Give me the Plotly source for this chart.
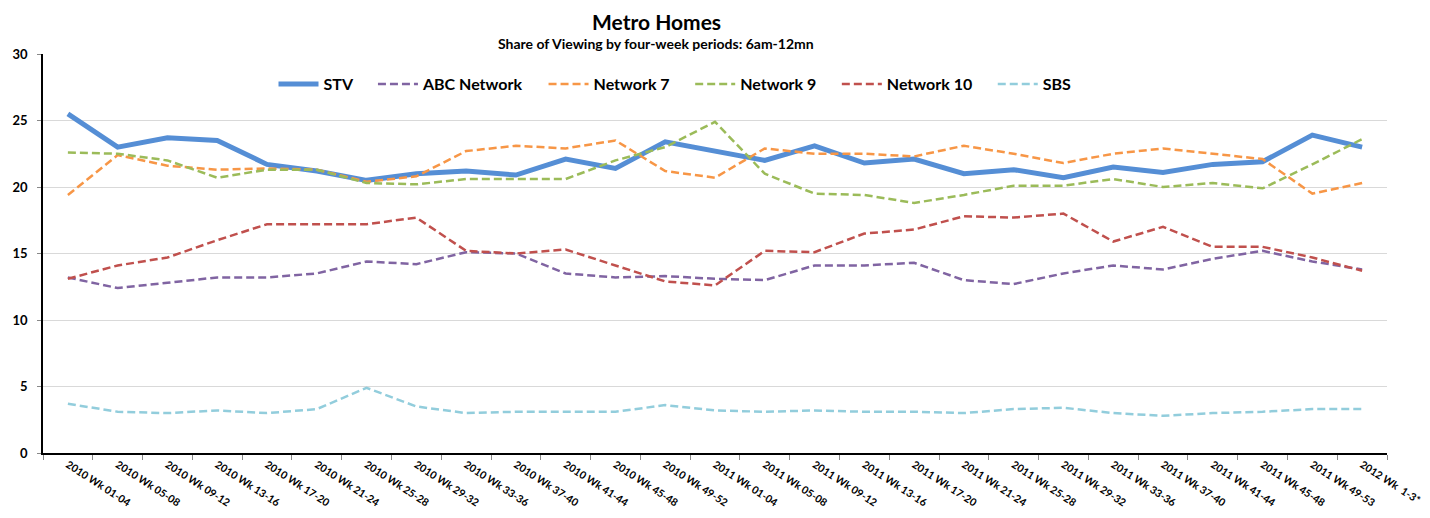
import plotly.graph_objects as go

categories = [
    "2010 Wk 01-04", "2010 Wk 05-08", "2010 Wk 09-12", "2010 Wk 13-16", "2010 Wk 17-20",
    "2010 Wk 21-24", "2010 Wk 25-28", "2010 Wk 29-32", "2010 Wk 33-36", "2010 Wk 37-40",
    "2010 Wk 41-44", "2010 Wk 45-48", "2010 Wk 49-52",
    "2011 Wk 01-04", "2011 Wk 05-08", "2011 Wk 09-12", "2011 Wk 13-16", "2011 Wk 17-20",
    "2011 Wk 21-24", "2011 Wk 25-28", "2011 Wk 29-32", "2011 Wk 33-36", "2011 Wk 37-40",
    "2011 Wk 41-44", "2011 Wk 45-48", "2011 Wk 49-53", "2012 Wk  1-3*",
]

stv = [25.5, 23.0, 23.7, 23.5, 21.7, 21.2, 20.5, 21.0, 21.2, 20.9, 22.1, 21.4, 23.4,
       22.7, 22.0, 23.1, 21.8, 22.1, 21.0, 21.3, 20.7, 21.5, 21.1, 21.7, 21.9, 23.9, 23.0]
abc = [13.2, 12.4, 12.8, 13.2, 13.2, 13.5, 14.4, 14.2, 15.1, 15.0, 13.5, 13.2, 13.3,
       13.1, 13.0, 14.1, 14.1, 14.3, 13.0, 12.7, 13.5, 14.1, 13.8, 14.6, 15.2, 14.4, 13.8]
net7 = [19.4, 22.4, 21.6, 21.3, 21.4, 21.3, 20.4, 20.8, 22.7, 23.1, 22.9, 23.5, 21.2,
        20.7, 22.9, 22.5, 22.5, 22.3, 23.1, 22.5, 21.8, 22.5, 22.9, 22.5, 22.1, 19.5, 20.3]
net9 = [22.6, 22.5, 22.0, 20.7, 21.3, 21.3, 20.3, 20.2, 20.6, 20.6, 20.6, 22.0, 23.0,
        24.9, 21.0, 19.5, 19.4, 18.8, 19.4, 20.1, 20.1, 20.6, 20.0, 20.3, 19.9, 21.7, 23.6]
net10 = [13.1, 14.1, 14.7, 16.0, 17.2, 17.2, 17.2, 17.7, 15.2, 15.0, 15.3, 14.1, 12.9,
         12.6, 15.2, 15.1, 16.5, 16.8, 17.8, 17.7, 18.0, 15.9, 17.0, 15.5, 15.5, 14.7, 13.7]
sbs = [3.7, 3.1, 3.0, 3.2, 3.0, 3.3, 4.9, 3.5, 3.0, 3.1, 3.1, 3.1, 3.6,
       3.2, 3.1, 3.2, 3.1, 3.1, 3.0, 3.3, 3.4, 3.0, 2.8, 3.0, 3.1, 3.3, 3.3]

series = [
    ("STV", stv, "#558ED5", 5, "solid"),
    ("ABC Network", abc, "#8064A2", 2.5, "dash"),
    ("Network 7", net7, "#F79646", 2.5, "dash"),
    ("Network 9", net9, "#9BBB59", 2.5, "dash"),
    ("Network 10", net10, "#C0504D", 2.5, "dash"),
    ("SBS", sbs, "#92CDDC", 2.5, "dash"),
]

FONT = "Lato"
# the page body adds an 8px margin, so the figure is 8px smaller each way
W, H = 1422, 510
ML, MR, MT, MB = 35, 43, 46, 65
PH = H - MT - MB
PAD = "\u00a0" * 4

fig = go.Figure()
for name, vals, color, width, dash in series:
    fig.add_trace(go.Scatter(
        x=categories, y=vals, name=name + (PAD if name != "SBS" else ""), mode="lines",
        line=dict(color=color, width=width, dash="solid" if dash == "solid" else "8px,4px"),
    ))

fig.update_layout(
    width=W, height=H,
    margin=dict(l=ML, r=MR, t=MT, b=MB, autoexpand=False),
    paper_bgcolor="white", plot_bgcolor="white",
    font=dict(family=FONT, color="black"),
    showlegend=True,
    legend=dict(
        orientation="h", x=(675 - 43) / 1344, xanchor="center", y=(453 - 84) / PH, yanchor="middle",
        font=dict(family=FONT, size=16, color="black", weight="bold"),
        bgcolor="rgba(0,0,0,0)", itemwidth=40,
    ),
    annotations=[
        dict(text="<b>Metro Homes</b>", x=(656 - 43) / 1344, xref="paper", y=(453 - 8) / PH,
             yref="paper", yanchor="top", borderpad=0, showarrow=False,
             font=dict(family=FONT, size=21, color="black")),
        dict(text="<b>Share of Viewing by four-week periods: 6am-12mn</b>", x=(656 - 43) / 1344,
             xref="paper", y=(453 - 44) / PH, yref="paper", yanchor="middle", showarrow=False,
             font=dict(family=FONT, size=14, color="black")),
    ],
)

fig.update_xaxes(
    type="category", showgrid=False, showline=True, linecolor="black", linewidth=1.5,
    ticks="outside", tickson="boundaries", ticklen=5, tickcolor="#888", automargin=False,
    tickangle=33, tickfont=dict(family=FONT, size=10.5, color="black", weight="bold"),
    range=[-0.5, len(categories) - 0.5],
)
fig.update_yaxes(
    range=[0, 30], dtick=5, showgrid=True, gridcolor="#D9D9D9", gridwidth=1,
    showline=True, linecolor="black", linewidth=1.5, ticks="outside", ticklen=4,
    tickcolor="#888", zeroline=False, automargin=False, ticklabelstandoff=7,
    tickfont=dict(family=FONT, size=13, color="black", weight="bold"),
)

fig.write_html("out.html")
